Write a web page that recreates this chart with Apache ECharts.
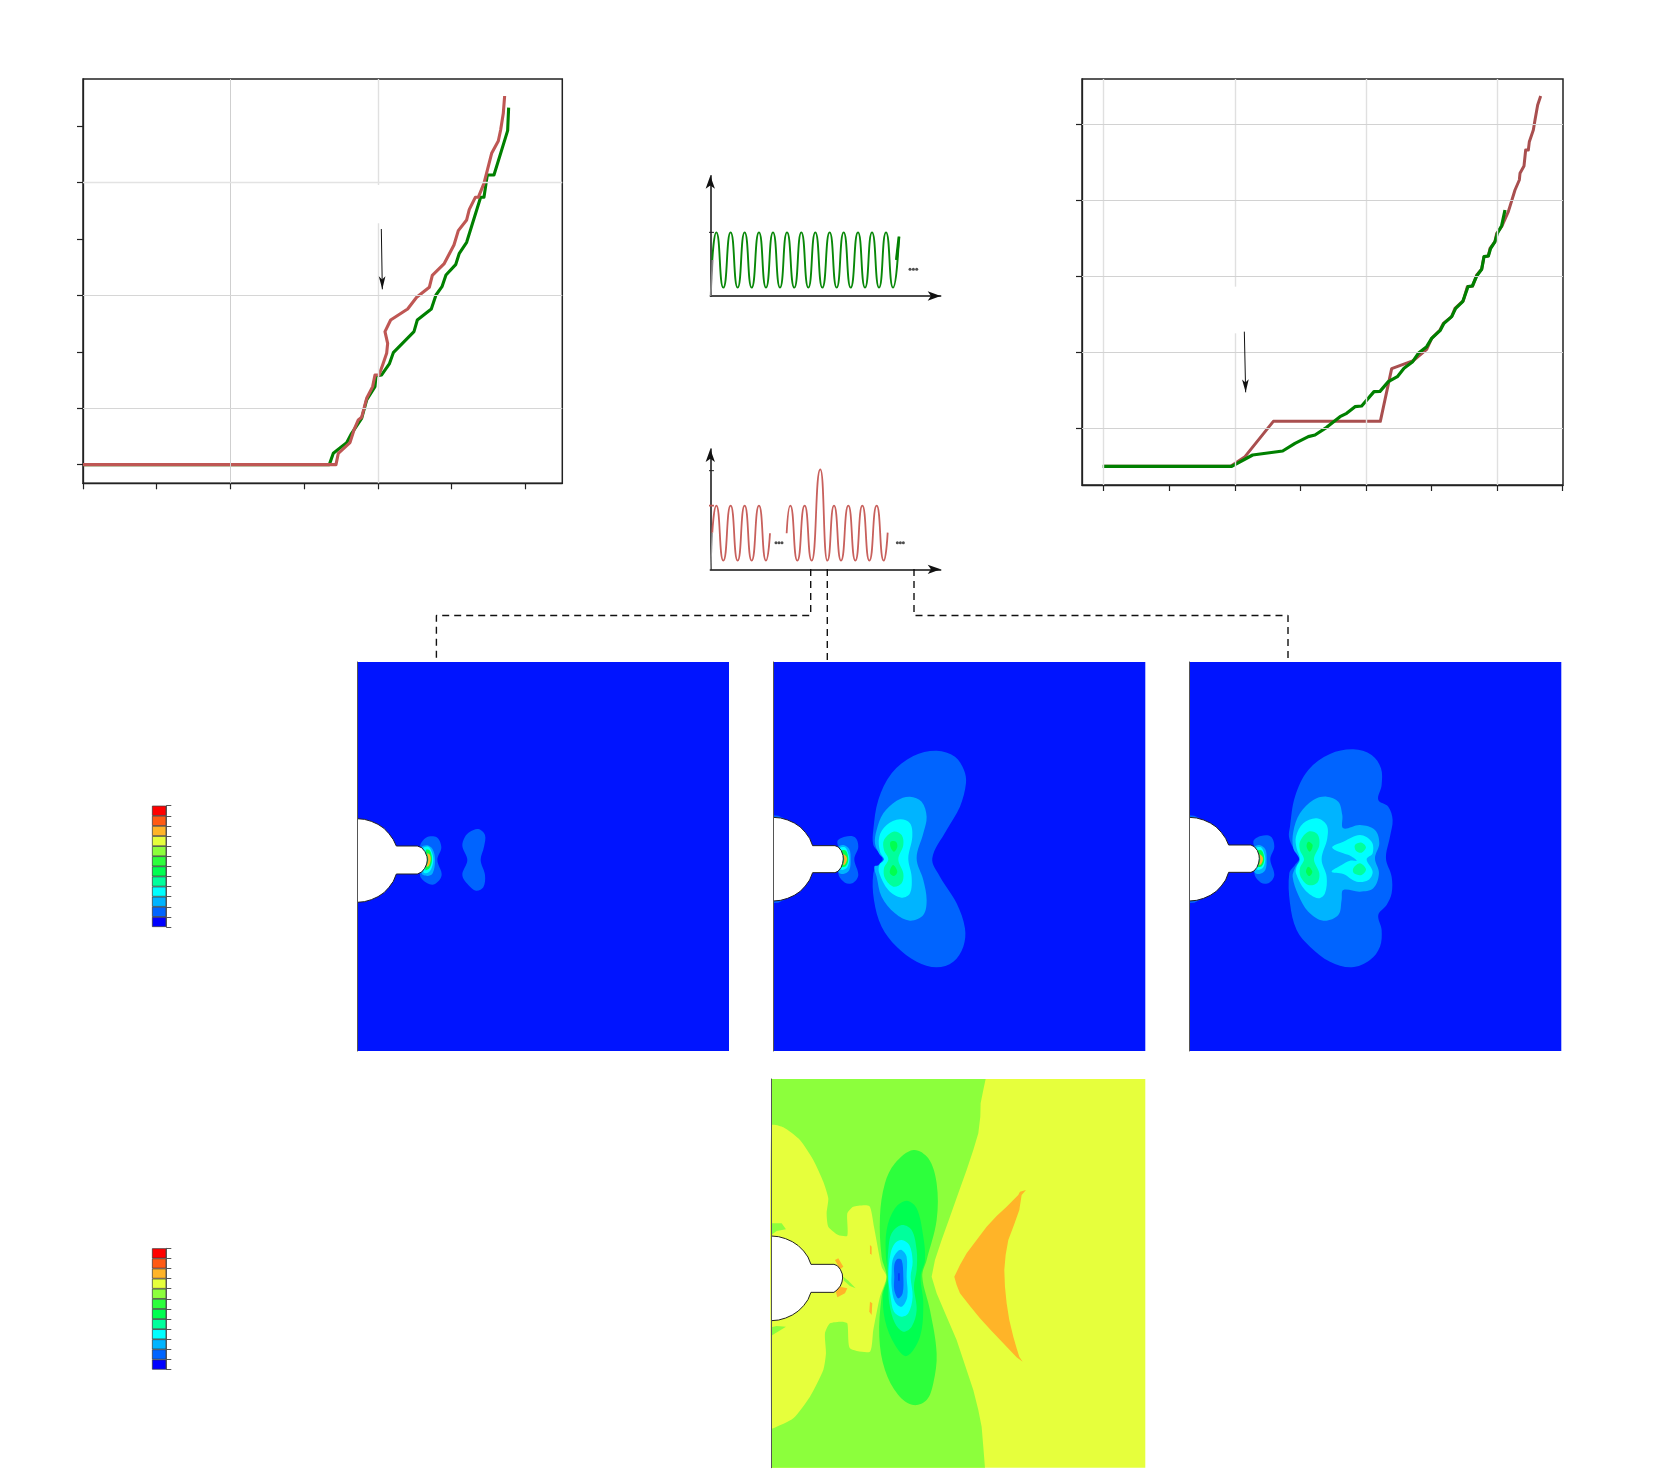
<!DOCTYPE html>
<html><head><meta charset="utf-8">
<style>html,body{margin:0;padding:0;background:#fff}#c{width:1661px;height:1480px}</style>
<script src="https://cdn.jsdelivr.net/npm/echarts@6/dist/echarts.min.js"></script>
</head><body><div id="c"></div>
<script>
/* ---------- curve plots (arbitrary units: no labels exist) ---------- */
const leftRed = [[0,0],[759,0],[766,34],[801,66],[813,104],[826,134],[836,142],[851,199],[869,234],[876,269],[888,269],[899,299],[911,334],[914,364],[906,399],[923,434],[974,467],[1001,502],[1039,532],[1048,568],[1083,602],[1113,659],[1126,702],[1151,734],[1159,766],[1177,802],[1186,802],[1203,844],[1226,934],[1246,971],[1253,1004],[1261,1054],[1265,1106]];
const leftGreen = [[0,0],[739,0],[751,34],[791,66],[806,94],[836,139],[851,194],[876,234],[879,266],[896,269],[919,302],[931,336],[993,399],[1003,434],[1045,467],[1059,509],[1077,534],[1089,569],[1118,600],[1129,634],[1151,667],[1193,802],[1203,802],[1213,869],[1233,869],[1274,1002],[1277,1071]];
const leftXTicks = [0,221,442,664,885,1106,1327];
const leftYTicks = [0,169,338,507,676,846,1015];
const rightRed = [[0,0],[381,0],[424,29],[509,135],[830,135],[864,293],[929,317],[969,351],[984,384],[1009,409],[1019,429],[1044,449],[1054,474],[1079,497],[1091,539],[1107,541],[1119,574],[1134,591],[1141,629],[1154,631],[1159,654],[1174,674],[1179,699],[1194,719],[1214,764],[1234,829],[1247,859],[1249,879],[1261,901],[1266,949],[1274,949],[1277,974],[1289,1009],[1294,1039],[1299,1041],[1302,1084],[1307,1084],[1311,1111]];
const rightGreen = [[-3,0],[384,0],[447,34],[537,46],[574,69],[614,89],[634,94],[669,117],[709,149],[729,159],[754,179],[774,181],[811,224],[829,225],[854,254],[881,269],[901,294],[927,314],[944,339],[969,359],[984,384],[1009,407],[1021,429],[1044,449],[1056,474],[1077,494],[1093,539],[1106,541],[1119,571],[1134,591],[1141,629],[1154,631],[1161,654],[1174,674],[1181,699],[1194,722],[1204,769]];
const rightXTicks = [0,197,394,590,787,983,1180,1376];
const rightYTicks = [114,342,570,798,1027];

/* ---------- small load-history sketches ---------- */
const waveA = [[6,108],[18,191],[39,25],[61,191],[82,25],[103,191],[124,25],[146,191],[167,25],[188,191],[209,25],[230,191],[252,25],[273,191],[294,25],[315,191],[336,25],[358,191],[379,25],[400,191],[421,25],[443,191],[464,25],[485,191],[506,25],[527,191],[548,25],[566,178]];
const waveAEnd = [[558,108],[566,178]];
const waveB1 = [[6,110],[18,191],[39,26],[61,191],[82,26],[103,191],[124,26],[146,191],[167,26],[179,108]];
const waveB2 = [[229,108],[240,191],[261,26],[283,191],[304,26],[330,300],[351,26],[371,191],[392,26],[414,191],[435,26],[456,191],[477,26],[499,191],[520,26],[532,110]];
const rampA = [[1,0],[7,108]];
const rampB = [[1,0],[6,110]];
const dotsA = [[599,80],[609,80],[619,80]];
const dotsB = [[197,80],[206,80],[215,80],[561,80],[570,80],[579,80]];

/* ---------- connectors (page units) ---------- */
const connectorLeft = [[810.7,569],[810.7,615.5],[436.4,615.5],[436.4,662]];
const connectorMid = [[827.3,569],[827.3,662]];
const connectorRight = [[914,569],[914,615.5],[1288,615.5],[1288,662]];

/* ---------- colour scale ---------- */
const scaleColors = ['#0000ff','#0064ff','#00b4ff','#00ffff','#00ff9c','#00ff50','#2dff3c','#8cff3c','#e6ff3c','#ffb428','#ff5a14','#ff0000'];
const scaleCells = [1,1,1,1,1,1,1,1,1,1,1,1];

/* ---------- field contours, panel units ---------- */
const p1Notch = [[51,176],[73,178],[94,184],[114,193],[132,205],[147,221],[160,239],[169,258],[232,258],[245,263],[255,275],[261,290],[262,300],[260,312],[254,325],[245,336],[232,342],[169,342],[160,364],[147,382],[132,398],[114,410],[94,419],[73,425],[51,427]];
const p1Tip0 = [[240,262],[258,233],[290,232],[304,262],[292,300],[305,345],[285,372],[262,370],[240,345],[262,300]];
const p1Tip1 = [[245,262],[262,256],[278,268],[285,300],[278,340],[262,348],[245,340],[262,300]];
const p1Tip2 = [[250,265],[265,260],[275,275],[280,300],[272,330],[258,340],[250,335],[262,300]];
const p1Tip3 = [[258,270],[270,272],[276,300],[268,325],[256,330],[262,300]];
const p1Tip4 = [[262,280],[270,285],[272,300],[266,318],[260,320],[265,300]];
const p1Blob = [[390,215],[415,207],[435,225],[432,260],[422,300],[435,345],[430,382],[408,392],[385,375],[367,345],[382,300],[367,258],[375,230]];

const p2Notch = [[40,262],[62,264],[83,270],[103,279],[121,291],[136,307],[149,325],[158,347],[225,347],[235,351],[244,362],[249,376],[250,387],[248,400],[243,413],[234,424],[225,428],[158,428],[149,450],[136,468],[121,484],[103,496],[83,505],[62,511],[40,513]];
const p2EdgeTop = [[40,256],[55,257],[72,265],[40,264]];
const p2EdgeBot = [[40,519],[55,518],[72,510],[40,511]];
const p2Tip0 = [[232,335],[255,320],[285,322],[295,350],[283,388],[295,435],[280,458],[255,458],[235,430],[250,388]];
const p2Tip1 = [[235,352],[250,345],[268,358],[272,388],[268,420],[250,432],[235,425],[250,388]];
const p2Tip2 = [[240,355],[255,352],[264,368],[268,388],[262,412],[248,420],[240,415],[250,388]];
const p2Tip3 = [[245,362],[258,362],[265,388],[258,408],[245,410],[250,388]];
const p2Tip4 = [[250,372],[258,378],[261,388],[256,402],[250,405],[253,388]];
const p2L1 = [[340,300],[355,210],[395,130],[460,78],[530,62],[585,80],[612,120],[618,160],[600,230],[560,300],[517,385],[540,440],[590,520],[615,595],[610,650],[580,695],[530,712],[470,695],[410,650],[365,590],[342,510],[340,430],[355,405],[368,388],[355,365],[340,345]];
const p2L2 = [[350,300],[370,250],[410,212],[450,200],[485,215],[500,260],[490,310],[470,385],[490,450],[500,510],[490,555],[450,572],[405,550],[365,500],[350,440],[343,410],[358,405],[372,388],[358,372],[345,340]];
const p2L3 = [[358,320],[380,285],[420,268],[450,280],[457,320],[445,385],[455,440],[450,490],[425,503],[385,480],[358,430],[358,405],[372,388],[360,365]];
const p2L4 = [[372,330],[400,305],[425,315],[430,345],[415,388],[430,430],[425,460],[400,470],[375,445],[372,415],[385,388],[372,360]];
const p2L5a = [[392,335],[408,335],[412,350],[402,365],[392,352]];
const p2L5b = [[392,415],[400,405],[412,425],[402,438],[390,430]];

const p3Notch = [[28,262],[50,264],[71,270],[91,279],[109,291],[124,307],[137,325],[146,345],[213,345],[223,350],[232,361],[237,375],[238,386],[236,399],[231,412],[222,423],[213,427],[146,427],[137,450],[124,468],[109,484],[91,496],[71,505],[50,511],[28,513]];
const p3EdgeTop = [[28,256],[43,257],[60,265],[28,264]];
const p3EdgeBot = [[28,519],[43,518],[60,510],[28,511]];
const p3Tip0 = [[220,335],[243,318],[273,320],[283,350],[271,388],[283,435],[268,458],[243,458],[223,430],[238,388]];
const p3Tip1 = [[223,352],[238,345],[256,358],[260,388],[256,420],[238,432],[223,425],[238,388]];
const p3Tip2 = [[228,355],[243,352],[252,368],[256,388],[250,412],[236,420],[228,415],[238,388]];
const p3Tip3 = [[233,362],[246,362],[253,388],[246,408],[233,410],[238,388]];
const p3Tip4 = [[238,372],[246,378],[249,388],[244,402],[238,405],[241,388]];
const p3L1 = [[330,290],[345,200],[385,120],[450,72],[520,58],[575,75],[603,115],[605,165],[595,210],[625,230],[638,270],[630,320],[618,385],[635,440],[635,490],[620,525],[595,555],[605,600],[600,650],[570,690],[515,712],[450,695],[390,650],[350,600],[330,520],[328,430],[345,405],[358,385],[340,355],[327,320]];
const p3L2 = [[340,305],[360,250],[400,210],[440,200],[475,215],[487,255],[490,295],[540,285],[585,300],[598,340],[585,385],[597,430],[580,475],[540,485],[490,480],[485,510],[475,555],[430,572],[385,545],[355,495],[338,440],[345,415],[358,388],[340,355]];
const p3L3a = [[348,320],[370,280],[410,265],[440,285],[442,325],[425,388],[440,440],[435,490],[415,505],[375,480],[348,430],[350,410],[360,388],[350,355]];
const p3L3b = [[457,350],[490,335],[540,315],[575,335],[578,370],[560,388],[578,425],[565,450],[530,455],[490,432],[455,425],[485,405],[510,392],[530,392],[512,378],[490,370],[465,360]];
const p3L4a = [[360,335],[385,305],[412,312],[418,345],[402,388],[418,430],[412,458],[385,465],[362,440],[360,415],[372,388],[360,360]];
const p3L4b = [[525,345],[545,338],[558,352],[545,368],[528,362]];
const p3L4c = [[520,415],[540,400],[558,418],[545,435],[522,430]];
const p3L5a = [[385,335],[398,345],[390,365],[380,350]];
const p3L5b = [[385,410],[397,425],[388,438],[378,425]];

const p4Notch = [[34,498],[56,500],[77,506],[97,515],[115,527],[131,543],[144,561],[153,583],[222,583],[232,587],[241,598],[247,612],[248,624],[246,636],[241,648],[231,660],[222,667],[153,667],[144,689],[131,707],[115,723],[97,735],[77,744],[56,750],[34,752]];
const p4Lime = [[34,27],[677,27],[670,60],[662,100],[661,140],[655,190],[640,240],[620,300],[595,370],[570,440],[545,510],[525,570],[515,620],[530,670],[560,740],[590,810],[615,885],[640,960],[655,1020],[665,1070],[670,1130],[675,1193],[34,1193]];
const p4Yellow = [[34,167],[70,172],[120,210],[160,270],[190,335],[205,385],[200,430],[205,470],[235,495],[262,497],[262,430],[280,410],[328,408],[342,470],[365,590],[380,620],[360,680],[340,780],[330,845],[270,835],[262,760],[245,755],[210,760],[195,790],[198,850],[190,900],[150,980],[100,1045],[40,1075],[34,1075]];
const p4LimeA = [[34,460],[65,460],[78,478],[50,483],[34,495]];
const p4LimeB = [[34,797],[78,770],[50,768],[34,772]];
const p4Green = [[360,440],[375,340],[405,280],[460,240],[505,265],[530,340],[530,450],[500,570],[487,620],[510,720],[530,850],[520,940],[500,990],[460,1005],[415,975],[375,900],[358,800],[365,680],[380,620],[365,560]];
const p4Green2 = [[380,480],[405,415],[440,392],[470,415],[490,500],[495,570],[482,620],[490,700],[480,800],[440,858],[405,825],[375,750],[370,670],[385,620],[378,560]];
const p4Teal = [[385,540],[395,490],[425,465],[455,480],[470,540],[470,600],[462,650],[470,720],[455,770],[430,785],[405,760],[388,700],[385,640],[383,600]];
const p4Cyan = [[392,550],[405,520],[425,510],[448,525],[458,575],[452,620],[458,680],[445,730],[425,740],[402,725],[392,680],[385,620]];
const p4Sky = [[398,570],[412,545],[425,540],[440,560],[440,620],[442,680],[425,710],[405,695],[395,650],[395,610]];
const p4Blue = [[403,585],[412,567],[425,570],[430,620],[428,670],[415,685],[403,660],[403,620]];
const p4Core = [[416,610],[418,610],[418,632],[416,632]];
const p4Orange = [[583,620],[600,585],[620,550],[650,510],[680,470],[710,438],[740,410],[775,375],[780,365],[798,360],[785,375],[778,420],[762,465],[745,510],[737,555],[733,600],[735,650],[740,700],[748,750],[760,800],[770,835],[778,860],[788,875],[770,862],[730,820],[695,783],[660,745],[630,708],[600,670],[590,645]];
const p4OrA = [[225,570],[235,565],[250,590],[240,598]];
const p4OrB = [[240,650],[262,655],[255,670],[232,682],[228,665]];
const p4OrC = [[330,525],[335,530],[335,555],[330,550]];
const p4OrD = [[330,695],[337,700],[335,735],[328,725]];
const p4LimeTip = [[250,620],[265,632],[287,655],[270,648],[252,632]];

/* ---------- chart assembly ---------- */
const RED='#bf5754', RED2='#a94f4f', GREEN='#008000', INK='#222';
const col=i=>scaleColors[i];
const grids=[],xAxes=[],yAxes=[],series=[];
function addGrid(box,x,y){
  const i=grids.length;
  grids.push(Object.assign({containLabel:false,show:false,borderWidth:0},box));
  xAxes.push(Object.assign({gridIndex:i,type:'value',show:false,splitLine:{show:false}},x));
  yAxes.push(Object.assign({gridIndex:i,type:'value',show:false,splitLine:{show:false}},y));
  return i;
}
function line(g,data,color,width,z,extra){
  series.push(Object.assign({type:'line',xAxisIndex:g,yAxisIndex:g,data,symbol:'none',z:z||3,silent:true,clip:false,
    lineStyle:{color,width,join:'round'}},extra||{}));
}
function boxAxis(min,max,ticks){
  return {show:true,min,max,axisLine:{show:true,onZero:false,lineStyle:{color:INK,width:1.3}},
    axisTick:{show:true,inside:false,length:6,customValues:ticks,lineStyle:{color:INK,width:1.2}},axisLabel:{show:false}};
}
function seg(a,b,color,w){
  return [{coord:a,lineStyle:{color,width:w,type:'solid'}},{coord:b}];
}
function rules(g,segs){
  series.push({type:'line',xAxisIndex:g,yAxisIndex:g,data:[],z:1,silent:true,
    markLine:{silent:true,animation:false,symbol:'none',label:{show:false},data:segs}});
}
function arrow(g,a,b){
  series.push({type:'line',xAxisIndex:g,yAxisIndex:g,data:[],z:6,silent:true,
    markLine:{silent:true,animation:false,symbol:['none','arrow'],symbolSize:[5,13],label:{show:false},
      lineStyle:{color:'#111',width:1,type:'solid'},data:[[{coord:a},{coord:b}]]}});
}

/* left plot */
const g1=addGrid({show:true,left:83,top:79,width:479.3,height:404.3,borderColor:INK,borderWidth:1.5,backgroundColor:'#fff'},boxAxis(0,1438,leftXTicks),boxAxis(-56,1157,leftYTicks));
rules(g1,[seg([442,-56],[442,1157],'#cfcfcf',1),seg([885,-56],[885,724],'#e0e0e0',1.4),seg([885,839],[885,1157],'#e0e0e0',1.4),
  seg([0,846],[1438,846],'#e3e3e3',1.3),seg([0,508],[1438,508],'#d6d6d6',1),seg([0,169],[1438,169],'#d6d6d6',1)]);
line(g1,leftGreen,GREEN,3.1,3);
line(g1,leftRed,RED,3.1,4);
arrow(g1,[895,707],[898,526]);

/* right plot */
const g2=addGrid({show:true,left:1082,top:79,width:481,height:406,borderColor:INK,borderWidth:1.5,backgroundColor:'#fff'},boxAxis(-65,1378,rightXTicks),boxAxis(-56,1162,rightYTicks));
rules(g2,[seg([0,-56],[0,1162],'#e0e0e0',1.4),seg([394,-56],[394,399],'#e0e0e0',1.4),seg([394,539],[394,1162],'#e0e0e0',1.4),seg([787,-56],[787,1162],'#e0e0e0',1.4),seg([1180,-56],[1180,1162],'#e0e0e0',1.4),
  ...rightYTicks.map(v=>seg([-65,v],[1378,v],'#d2d2d2',1))]);
line(g2,rightRed,RED2,3,3);
line(g2,rightGreen,GREEN,3.2,4);
arrow(g2,[422,404],[426,222]);

/* sketches */
function sketchAxis(max){
  return {show:true,min:0,max,axisLine:{show:true,onZero:false,symbol:['none','arrow'],symbolSize:[7,13],lineStyle:{color:'#111',width:1.5}},axisTick:{show:false},axisLabel:{show:false}};
}
const wave={smooth:0.6,smoothMonotone:'x'};
const g3=addGrid({left:710.3,top:175.7,width:230.4,height:120.3},sketchAxis(691),sketchAxis(361));
line(g3,[[-11,191],[11,191]],'#222',1,5);
line(g3,rampA,'#888',1.8,3);
line(g3,waveA,'#088808',1.9,3,wave);
line(g3,waveAEnd,GREEN,2.8,4);
series.push({type:'scatter',xAxisIndex:g3,yAxisIndex:g3,data:dotsA,symbolSize:3,itemStyle:{color:'#222'},silent:true});
const g4=addGrid({left:710.3,top:449,width:230.4,height:120.3},sketchAxis(691),sketchAxis(361));
line(g4,[[-11,296],[11,296]],'#222',1,5);
line(g4,[[-11,191],[11,191]],RED,1.6,5);
line(g4,rampB,'#999',1.4,3);
line(g4,waveB1,'#c8605c',1.8,3,wave);
line(g4,waveB2,'#c8605c',1.8,3,wave);
series.push({type:'scatter',xAxisIndex:g4,yAxisIndex:g4,data:dotsB,symbolSize:3,itemStyle:{color:'#222'},silent:true});

/* connectors on a full-page scale */
const g5=addGrid({left:0,top:0,width:1661,height:1480},{min:0,max:1661},{min:0,max:1480,inverse:true});
[connectorLeft,connectorMid,connectorRight].forEach(d=>{
  series.push({type:'line',xAxisIndex:g5,yAxisIndex:g5,data:d,symbol:'none',z:2,silent:true,clip:false,
    lineStyle:{color:'#111',width:1.4,type:[7,5]}});
});

/* contour panels */
function panel(box,x0,y0,w,h,bg,layers,notch){
  const g=addGrid(Object.assign({show:true,backgroundColor:bg,borderWidth:0},box),
    {min:x0,max:x0+w},
    {min:y0,max:y0+h,inverse:true,show:true,z:5,axisLine:{show:true,onZero:false,lineStyle:{color:'#555',width:1}},axisTick:{show:false},axisLabel:{show:false}});
  series.push({type:'custom',xAxisIndex:g,yAxisIndex:g,coordinateSystem:'cartesian2d',silent:true,clip:false,z:2,
    data:layers.map((l,i)=>[i]),encode:{x:0,y:0},
    renderItem(p,api){
      const l=layers[api.value(0)];
      return {type:'polygon',shape:{points:l[0].map(q=>api.coord(q)),smooth:l[2]===undefined?0.35:l[2]},style:{fill:l[1]}};
    }});
  series.push({type:'custom',xAxisIndex:g,yAxisIndex:g,coordinateSystem:'cartesian2d',silent:true,clip:false,z:3,
    data:[[0]],encode:{x:0,y:0},
    renderItem(p,api){
      const pts=notch.map(q=>api.coord(q));
      return {type:'group',children:[
        {type:'polygon',shape:{points:pts},style:{fill:'#fff'}},
        {type:'polyline',shape:{points:pts},style:{fill:null,stroke:'#222',lineWidth:1}}]};
    }});
}
const tipLayers=t=>[[t[0],col(1)],[t[1],col(2)],[t[2],col(3)],[t[3],col(5)],[t[4],col(9)]];
const panelBlue='#0014ff';
panel({left:357,top:662,width:372,height:389},51,-294,1116,1167,panelBlue,
  [...tipLayers([p1Tip0,p1Tip1,p1Tip2,p1Tip3,p1Tip4]),[p1Blob,col(1)]],p1Notch);
panel({left:773.3,top:662,width:372,height:389},40,-204,1116,1167,panelBlue,
  [[p2EdgeTop,col(1),0],[p2EdgeBot,col(1),0],...tipLayers([p2Tip0,p2Tip1,p2Tip2,p2Tip3,p2Tip4]),[p2L1,col(1)],[p2L2,col(2)],[p2L3,col(3)],[p2L4,col(4)],[p2L5a,col(5)],[p2L5b,col(5)]],p2Notch);
panel({left:1189.3,top:662,width:372,height:389},28,-204,1116,1167,panelBlue,
  [[p3EdgeTop,col(1),0],[p3EdgeBot,col(1),0],...tipLayers([p3Tip0,p3Tip1,p3Tip2,p3Tip3,p3Tip4]),[p3L1,col(1)],[p3L2,col(2)],[p3L3a,col(3)],[p3L3b,col(3)],[p3L4a,col(4)],[p3L4b,col(4)],[p3L4c,col(4)],[p3L5a,col(5)],[p3L5b,col(5)]],p3Notch);
panel({left:771.3,top:1079,width:374,height:388.7},34,27,1122,1166,col(8),
  [[p4Lime,col(7),0],[p4Yellow,col(8),0.2],[p4LimeA,col(7),0],[p4LimeB,col(7),0],[p4Green,col(6)],[p4Green2,col(5)],[p4Teal,col(4)],[p4Cyan,col(3)],[p4Sky,col(2)],[p4Blue,col(1)],[p4Core,col(0),0],
   [p4Orange,col(9),0],[p4OrA,col(9),0],[p4OrB,col(9),0],[p4OrC,col(9),0],[p4OrD,col(9),0],[p4LimeTip,col(7),0]],p4Notch);

/* colour scale bars */
function scaleBar(top){
  const g=addGrid({left:152,top,width:14.3,height:121.3},{show:false,type:'category',data:['scale']},
    {show:true,min:0,max:12,interval:1,position:'right',axisLine:{show:true,lineStyle:{color:'#666',width:1}},
     axisTick:{show:true,length:5,lineStyle:{color:'#555',width:1}},axisLabel:{show:false}});
  scaleCells.forEach((v,i)=>series.push({type:'bar',stack:'s'+g,xAxisIndex:g,yAxisIndex:g,data:[v],barWidth:'100%',silent:true,
    itemStyle:{color:scaleColors[i],borderColor:'#333',borderWidth:0.7}}));
}
scaleBar(805.7);
scaleBar(1248.3);

const chart=echarts.init(document.getElementById('c'),null,{renderer:'canvas'});
chart.setOption({animation:false,backgroundColor:'#fff',tooltip:{show:false},grid:grids,xAxis:xAxes,yAxis:yAxes,series});
</script></body></html>
